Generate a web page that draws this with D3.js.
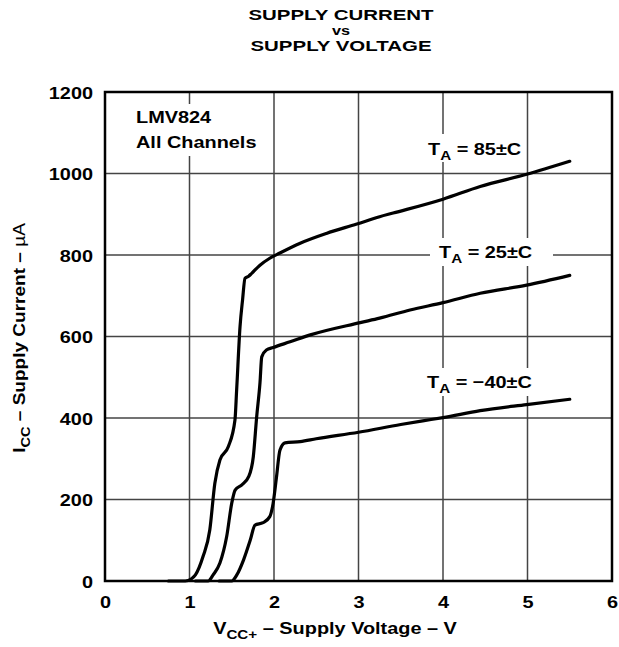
<!DOCTYPE html>
<html>
<head>
<meta charset="utf-8">
<script src="https://cdn.jsdelivr.net/npm/d3@7"></script>
<style>
html,body{margin:0;padding:0;background:#fff;}
svg{display:block;}
text{font-family:"Liberation Sans",Arial,Helvetica,sans-serif;font-weight:bold;fill:#000;}
</style>
</head>
<body>
<script>
// ---- data ----
const xTicks = [0, 1, 2, 3, 4, 5, 6];
const yTicks = [0, 200, 400, 600, 800, 1000, 1200];

const v85 = [0.75, 0.95, 1.02, 1.07, 1.16, 1.24, 1.30, 1.36, 1.46, 1.538, 1.558, 1.598, 1.628, 1.657, 1.70, 1.736, 1.834, 1.95, 2.07, 2.31, 2.62, 2.98, 3.25, 3.41, 4.0, 4.44, 4.99, 5.5];
const i85 = [0, 0, 5, 15, 60, 125, 240, 297, 330, 395, 469, 624, 690, 743, 748, 755, 775, 792, 805, 829, 853, 876, 894, 903, 937, 968, 998, 1030];

const v25 = [1.07, 1.22, 1.28, 1.36, 1.44, 1.50, 1.54, 1.62, 1.70, 1.755, 1.795, 1.834, 1.855, 1.91, 1.99, 2.19, 2.43, 3.02, 3.25, 3.61, 4.0, 4.44, 4.99, 5.5];
const i25 = [0, 0, 15, 44, 109, 191, 223, 236, 256, 305, 403, 486, 550, 567, 573, 587, 604, 634, 645, 665, 683, 706, 726, 750];

const vM40 = [1.35, 1.50, 1.56, 1.64, 1.72, 1.775, 1.87, 1.95, 1.99, 2.03, 2.07, 2.13, 2.31, 2.5, 3.0, 3.5, 3.76, 4.0, 4.44, 4.99, 5.5];
const iM40 = [0, 0, 15, 52, 101, 137, 143, 158, 191, 256, 321, 339, 342, 349, 365, 384, 393, 401, 418, 433, 446];

const seriesNames = ["85", "25", "\u221240"];
const titleLines = ["SUPPLY CURRENT", "vs", "SUPPLY VOLTAGE"];

// ---- layout ----
const W = 619, H = 647;
const M = {left: 105, top: 92, right: 612, bottom: 581};
const SX = 1.17;   // horizontal stretch of the original text
const FS = 17;

const svg = d3.select("body").append("svg").attr("width", W).attr("height", H);

const x = d3.scaleLinear().domain([0, 6]).range([M.left, M.right]);
const y = d3.scaleLinear().domain([0, 1200]).range([M.bottom, M.top]);

function stext(g, px, py, anchor, size, sx) {
  return g.append("text")
    .attr("transform", `translate(${px},${py}) scale(${sx || SX},1)`)
    .attr("text-anchor", anchor || "start")
    .style("font-size", (size || FS) + "px");
}

// gridlines
const grid = svg.append("g");
grid.selectAll("line.v").data(xTicks.slice(1, -1)).join("line")
  .attr("x1", d => x(d)).attr("x2", d => x(d))
  .attr("y1", M.top).attr("y2", M.bottom)
  .attr("stroke", "#444").attr("stroke-width", 1.5);
grid.selectAll("line.h").data(yTicks.slice(1, -1)).join("line")
  .attr("y1", d => y(d)).attr("y2", d => y(d))
  .attr("x1", M.left).attr("x2", M.right)
  .attr("stroke", "#444").attr("stroke-width", 1.5);

// label backgrounds (mask gridlines)
const bg = svg.append("g").attr("fill", "#fff");
bg.append("rect").attr("x", 108).attr("y", 104).attr("width", 160).attr("height", 52);
bg.append("rect").attr("x", 424).attr("y", 134).attr("width", 98).attr("height", 28);
bg.append("rect").attr("x", 430).attr("y", 238).attr("width", 123).attr("height", 28);
bg.append("rect").attr("x", 423).attr("y", 368).attr("width", 110).attr("height", 28);

// curves
const line = d3.line().x(d => x(d[0])).y(d => y(d[1])).curve(d3.curveMonotoneX);
const curves = [d3.zip(v85, i85), d3.zip(v25, i25), d3.zip(vM40, iM40)];
svg.append("g").selectAll("path").data(curves).join("path")
  .attr("d", line).attr("fill", "none").attr("stroke", "#000")
  .attr("stroke-width", 3.2).attr("stroke-linejoin", "round").attr("stroke-linecap", "round");

// frame
svg.append("rect").attr("x", M.left).attr("y", M.top)
  .attr("width", M.right - M.left).attr("height", M.bottom - M.top)
  .attr("fill", "none").attr("stroke", "#000").attr("stroke-width", 2.5);

// axes (tick labels via d3 axes)
const xAxis = svg.append("g").attr("transform", `translate(0,${M.bottom})`)
  .call(d3.axisBottom(x).tickValues(xTicks).tickSize(0).tickPadding(0).tickFormat(d3.format("d")));
xAxis.select(".domain").remove();
xAxis.selectAll("text").attr("y", null).attr("dy", null)
  .attr("transform", `translate(0,27) scale(${SX},1)`)
  .style("font-size", FS + "px").attr("fill", "#000");

const yAxis = svg.append("g").attr("transform", `translate(${M.left},0)`)
  .call(d3.axisLeft(y).tickValues(yTicks).tickSize(0).tickPadding(0).tickFormat(d3.format("d")));
yAxis.select(".domain").remove();
yAxis.selectAll("text").attr("x", null).attr("dy", null)
  .attr("transform", `translate(-12,6) scale(${SX},1)`)
  .style("font-size", FS + "px").attr("fill", "#000");
svg.selectAll(".tick line").remove();
svg.selectAll(".tick text").style("font-family", "'Liberation Sans',Arial,sans-serif").style("font-weight", "bold");

// title
const tg = svg.append("g");
stext(tg, 341, 20, "middle", 15.5, 1.32).text(titleLines[0]);
stext(tg, 341, 35, "middle", 13, 1.25).text(titleLines[1]);
stext(tg, 341, 51, "middle", 15.5, 1.32).text(titleLines[2]);

// in-plot annotation
const ag = svg.append("g");
stext(ag, 136, 123, "start").text("LMV824");
stext(ag, 136, 148, "start").text("All Channels");

function taLabel(px, py, val) {
  const t = stext(ag, px, py, "start");
  t.append("tspan").text("T");
  t.append("tspan").attr("dy", 5).style("font-size", "13px").text("A");
  t.append("tspan").attr("dy", -5).text(" = " + val + "\u00B1C");
}
taLabel(428, 155, seriesNames[0]);
taLabel(439, 258, seriesNames[1]);
taLabel(427, 388, seriesNames[2]);

// axis titles
const xt = stext(svg, 335, 634, "middle");
xt.append("tspan").text("V");
xt.append("tspan").attr("dy", 5).style("font-size", "13px").text("CC+");
xt.append("tspan").attr("dy", -5).text(" \u2013 Supply Voltage \u2013 V");

const yt = svg.append("text")
  .attr("transform", `translate(25,338) rotate(-90) scale(1.12,1)`)
  .attr("text-anchor", "middle").style("font-size", FS + "px");
yt.append("tspan").text("I");
yt.append("tspan").attr("dy", 5).style("font-size", "13px").text("CC");
yt.append("tspan").attr("dy", -5).text(" \u2013 Supply Current \u2013 ");
yt.append("tspan").style("font-weight", "normal").text("\u00B5A");
</script>
</body>
</html>
